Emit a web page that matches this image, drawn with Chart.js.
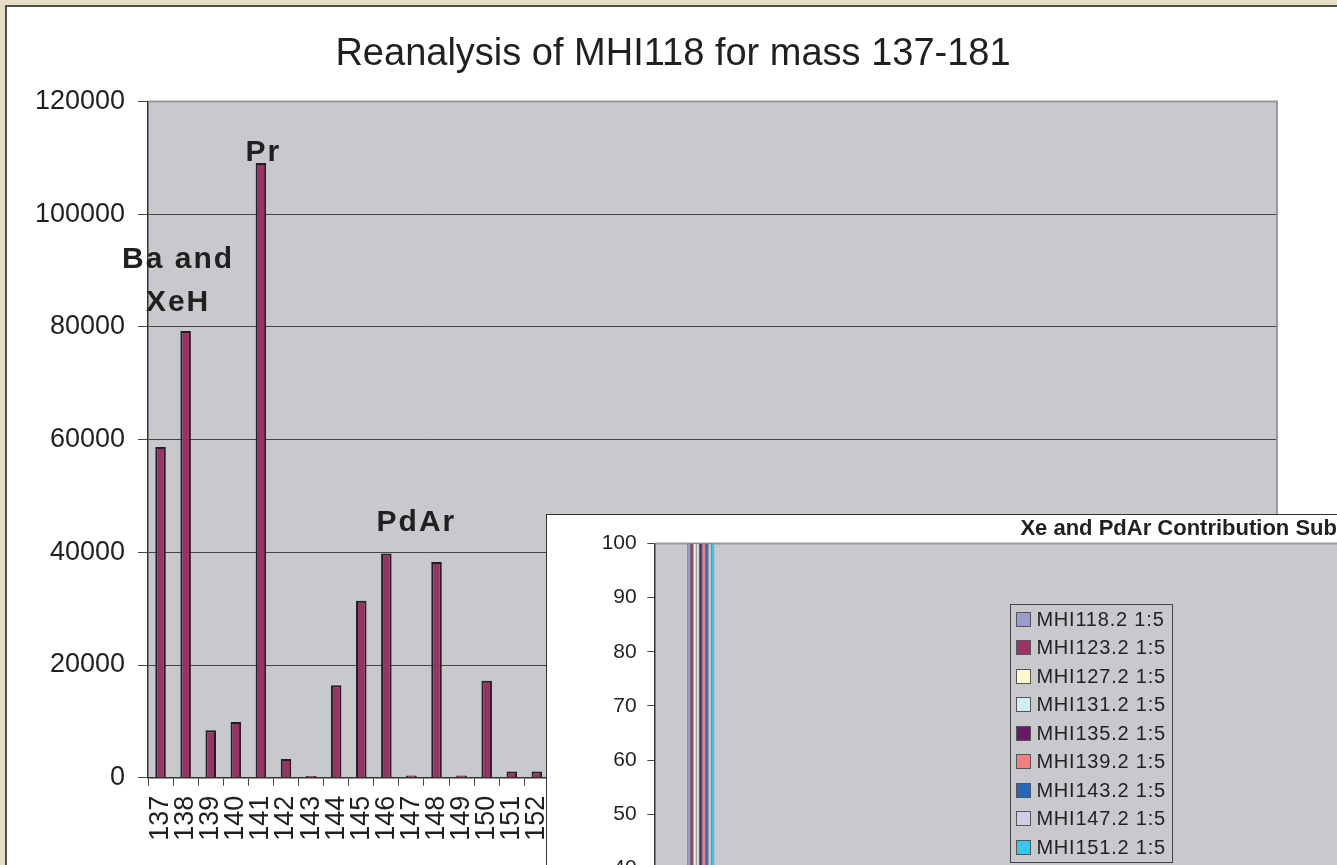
<!DOCTYPE html>
<html>
<head>
<meta charset="utf-8">
<script src="https://cdn.jsdelivr.net/npm/chart.js@4.4.1/dist/chart.umd.min.js"></script>
<style>
  html, body { margin: 0; padding: 0; }
  body {
    width: 1337px; height: 865px; overflow: hidden; position: relative;
    background: #e3ddc3;
    font-family: Arial, "Liberation Sans", sans-serif;
  }
  #mainPanel {
    position: absolute; left: 5px; top: 5px; width: 1400px; height: 900px;
    background: #fff; border-left: 2px solid #4d4d4d; border-top: 2px solid #4d4d4d;
  }
  #mainChart { position: absolute; left: 7px; top: 7px; }
  #insetPanel {
    position: absolute; left: 546px; top: 514px; width: 1400px; height: 700px;
    background: #fff; border-left: 1px solid #333; border-top: 1px solid #333;
  }
  #insetChart { position: absolute; left: 547px; top: 515px; }
  #insetLegend {
    position: absolute; left: 1010px; top: 604px; width: 163px;
    box-sizing: border-box; border: 1px solid #444;
  }
  #insetLegend .item {
    display: flex; align-items: center; height: 28.5px;
    font-size: 20px; letter-spacing: 0.8px; color: #231f20; white-space: nowrap;
  }
  #insetLegend .swatch {
    box-sizing: border-box; width: 15px; height: 15px;
    margin-left: 4.7px; margin-right: 5.7px; border: 1.5px solid #555;
  }
</style>
</head>
<body>
<div id="mainPanel"></div>
<canvas id="mainChart" width="1332" height="858"></canvas>
<div id="insetPanel"></div>
<canvas id="insetChart" width="1344" height="640"></canvas>
<div id="insetLegend"></div>

<script>
const FONT = 'Arial, "Liberation Sans", sans-serif';
const INK = '#231f20';

// main chart: counts per mass
const masses = ['137','138','139','140','141','142','143','144','145','146','147','148','149','150','151','152',
  '153','154','155','156','157','158','159','160','161','162','163','164','165','166','167','168','169','170',
  '171','172','173','174','175','176','177','178','179','180','181'];
const counts = [58700, 79300, 8400, 9900, 109100, 3300, 300, 16400, 31400, 39800, 400, 38300, 400, 17200, 1100, 1100,
  600, 5200, 2400, 3100, 2200, 3500, 1600, 2800, 900, 1200, 800, 1500, 700, 900, 600, 800, 400, 600,
  300, 500, 300, 500, 200, 400, 200, 300, 200, 300, 200];
const countTicks = [0, 20000, 40000, 60000, 80000, 100000, 120000];

// peak labels
const noteText = [['Pr'], ['Ba and', 'XeH'], ['PdAr']];
const noteMass = [141.1, 137.7, 147.2];
const noteLevel = [111000, 88100, 45200];

// inset chart
const insetMasses = ['137','138','139','140','141','142','143','144','145','146','147','148',
  '149','150','151','152','153','154','155','156','157','158','159','160'];
const insetSeries = ['MHI118.2 1:5','MHI123.2 1:5','MHI127.2 1:5','MHI131.2 1:5','MHI135.2 1:5',
  'MHI139.2 1:5','MHI143.2 1:5','MHI147.2 1:5','MHI151.2 1:5'];
const insetColors = ['#9b9bcf','#9b3366','#fffacd','#cfeef3','#661a66','#f47e7e','#2a66b8','#d0cdea','#33c8f0'];
const mhi118 = [0,100,2,1,0,3,1,0,2,5,12,1,9,0,6,1,1,0,2,1,0,1,0,0];
const mhi123 = [0,100,1,2,0,2,1,0,3,6,10,0,8,1,5,1,0,1,2,0,1,0,0,1];
const mhi127 = [0,100,2,1,1,3,0,1,2,4,11,1,9,0,6,0,1,0,1,1,0,1,1,0];
const mhi131 = [0,100,1,1,0,2,1,0,2,5,13,1,10,0,7,1,0,1,2,0,1,0,0,0];
const mhi135 = [0,100,3,2,0,4,1,1,3,6,12,0,9,1,6,1,1,0,2,1,0,1,0,1];
const mhi139 = [0,100,2,1,0,3,0,0,2,5,11,1,8,0,5,0,1,1,1,0,1,0,1,0];
const mhi143 = [0,100,1,2,1,2,1,0,3,4,12,1,9,1,6,1,0,0,2,1,0,1,0,0];
const mhi147 = [0,100,2,1,0,3,1,1,2,5,10,0,10,0,5,1,1,0,1,0,1,0,0,1];
const mhi151 = [0,100,1,1,0,2,0,0,2,6,13,1,9,0,6,0,0,1,2,1,0,1,1,0];
const insetValues = [mhi118, mhi123, mhi127, mhi131, mhi135, mhi139, mhi143, mhi147, mhi151];
const insetTicks = [0, 10, 20, 30, 40, 50, 60, 70, 80, 90, 100];

// gray plot area + light top/right border like the spreadsheet chart
const plotBackground = {
  id: 'plotBackground',
  beforeDraw(chart, args, opts) {
    const { ctx, chartArea: a } = chart;
    ctx.save();
    ctx.fillStyle = opts.color;
    ctx.fillRect(a.left, a.top, a.right - a.left, a.bottom - a.top);
    ctx.restore();
  },
  beforeDatasetsDraw(chart, args, opts) {
    const { ctx, chartArea: a } = chart;
    ctx.save();
    ctx.strokeStyle = opts.border;
    ctx.lineWidth = 2;
    ctx.beginPath();
    ctx.moveTo(a.left + 1, a.top);
    ctx.lineTo(a.right, a.top);
    ctx.lineTo(a.right, a.bottom - 1);
    ctx.stroke();
    ctx.restore();
  }
};

const peakNotes = {
  id: 'peakNotes',
  afterDatasetsDraw(chart) {
    const { ctx, scales: { x, y } } = chart;
    ctx.save();
    ctx.font = 'bold 30px ' + FONT;
    ctx.letterSpacing = '2px';
    ctx.fillStyle = INK;
    ctx.textAlign = 'center';
    ctx.textBaseline = 'middle';
    noteText.forEach((lines, i) => {
      const px = x.getPixelForValue(noteMass[i] - Number(masses[0]));
      const py = y.getPixelForValue(noteLevel[i]);
      lines.forEach((t, j) => {
        ctx.fillText(t, px, py + (j - (lines.length - 1) / 2) * 43);
      });
    });
    ctx.restore();
  }
};

const plainNumber = v => String(v);

new Chart(document.getElementById('mainChart'), {
  type: 'bar',
  data: {
    labels: masses,
    datasets: [{
      data: counts,
      backgroundColor: '#993366',
      borderColor: INK,
      borderWidth: 2,
      barPercentage: 0.42,
      categoryPercentage: 1
    }]
  },
  options: {
    responsive: false,
    animation: false,
    layout: { padding: 0 },
    plugins: {
      legend: { display: false },
      tooltip: { enabled: false },
      title: {
        display: true,
        text: 'Reanalysis of MHI118 for mass 137-181',
        color: INK,
        font: { family: FONT, size: 38, weight: 'normal' },
        padding: { top: 25, bottom: 24 }
      },
      plotBackground: { color: '#c8c9cc', border: '#9a9a9c' }
    },
    scales: {
      x: {
        ticks: {
          autoSkip: false, minRotation: 90, maxRotation: 90, padding: 10,
          color: INK, font: { family: FONT, size: 27 }
        },
        grid: { drawOnChartArea: false, tickLength: 8, color: '#444', offset: true },
        border: { color: '#333', width: 1.5 },
        afterFit: s => { s.height = 87.3; }
      },
      y: {
        min: 0,
        max: 120000,
        afterBuildTicks: s => { s.ticks = countTicks.map(v => ({ value: v })); },
        ticks: { padding: 13, color: INK, font: { family: FONT, size: 27 }, callback: plainNumber },
        grid: { color: '#444', tickLength: 10 },
        border: { color: '#333', width: 1.5 },
        afterFit: s => { s.width = 141; }
      },
      yRight: {
        position: 'right',
        ticks: { display: false },
        grid: { display: false },
        border: { display: false },
        afterFit: s => { s.width = 62; }
      }
    }
  },
  plugins: [plotBackground, peakNotes]
});

const inset = new Chart(document.getElementById('insetChart'), {
  type: 'bar',
  data: {
    labels: insetMasses,
    datasets: insetSeries.map((name, i) => ({
      label: name,
      data: insetValues[i],
      backgroundColor: insetColors[i],
      borderColor: '#2a2a2a',
      borderWidth: 0.5,
      barPercentage: 1,
      categoryPercentage: 0.874
    }))
  },
  options: {
    responsive: false,
    animation: false,
    layout: { padding: 0 },
    plugins: {
      legend: { display: false },
      tooltip: { enabled: false },
      title: {
        display: true,
        text: 'Xe and PdAr Contribution Subtraction',
        color: INK,
        font: { family: FONT, size: 22, weight: 'bold' },
        padding: { top: 1, bottom: 1 }
      },
      plotBackground: { color: '#c8c9cc', border: '#9a9a9c' }
    },
    scales: {
      x: {
        ticks: { autoSkip: false, color: INK, font: { family: FONT, size: 21 } },
        grid: { drawOnChartArea: false, tickLength: 7, color: '#444', offset: true },
        border: { color: '#333', width: 1.5 },
        afterFit: s => { s.height = 69.7; }
      },
      y: {
        min: 0,
        max: 100,
        afterBuildTicks: s => { s.ticks = insetTicks.map(v => ({ value: v })); },
        ticks: { padding: 10.6, color: INK, font: { family: FONT, size: 21 }, callback: plainNumber },
        grid: { drawOnChartArea: false, tickLength: 7, color: '#444' },
        border: { color: '#333', width: 1.5 },
        afterFit: s => { s.width = 107.3; }
      },
      yRight: {
        position: 'right',
        ticks: { display: false },
        grid: { display: false },
        border: { display: false },
        afterFit: s => { s.width = 494.7; }
      }
    }
  },
  plugins: [plotBackground]
});

// legend box sits inside the inset plot, like the original
const legendBox = document.getElementById('insetLegend');
Chart.defaults.plugins.legend.labels.generateLabels(inset).forEach(item => {
  const row = document.createElement('div');
  row.className = 'item';
  const sw = document.createElement('span');
  sw.className = 'swatch';
  sw.style.background = item.fillStyle;
  const label = document.createElement('span');
  label.textContent = item.text;
  row.appendChild(sw);
  row.appendChild(label);
  legendBox.appendChild(row);
});
</script>
</body>
</html>
